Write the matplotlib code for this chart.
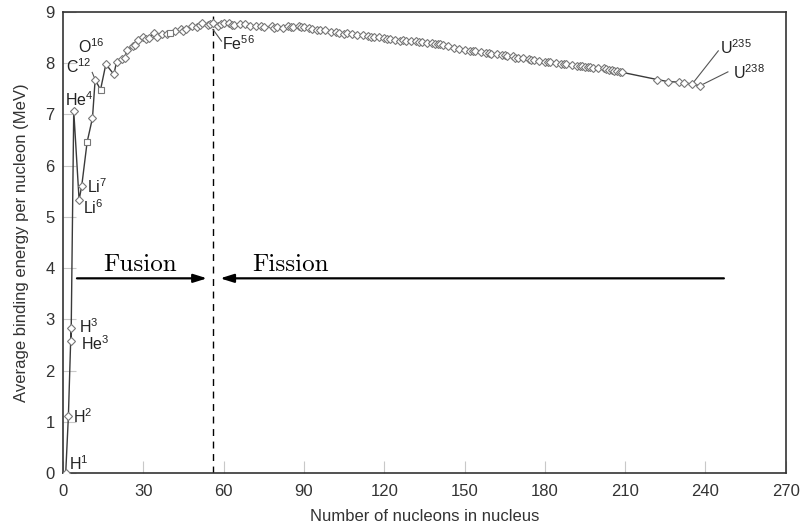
import matplotlib
matplotlib.use("Agg")
import matplotlib.pyplot as plt

# ---- data (mass number A, binding energy per nucleon in MeV) ----
mass_numbers = [1, 2, 3, 3, 4, 6, 7, 9, 11, 12, 14, 16, 19, 20, 22, 23, 24, 26, 27, 28,
                30, 31, 32, 34, 35, 37, 39, 40, 42, 44, 45, 46, 48, 50, 51, 52, 54, 55,
                56, 58, 59, 60, 62, 63, 64, 66, 68, 70, 72, 74, 75, 78, 79, 80, 82, 84,
                85, 86, 88, 89, 90, 92, 93, 95, 96, 98, 100, 102, 103, 105, 106, 108,
                110, 112, 114, 115, 116, 118, 120, 121, 122, 124, 126, 127, 128, 130,
                132, 133, 134, 136, 138, 139, 140, 141, 142, 144, 146, 148, 150, 152,
                153, 154, 156, 158, 159, 160, 162, 164, 165, 166, 168, 169, 170, 172,
                174, 175, 176, 178, 180, 181, 182, 184, 186, 187, 188, 190, 192, 193,
                194, 195, 196, 197, 198, 200, 202, 203, 204, 205, 206, 207, 208, 209,
                222, 226, 230, 232, 235, 238]
binding_energy = [0.00, 1.11, 2.83, 2.57, 7.07, 5.33, 5.61, 6.46, 6.93, 7.68, 7.48, 7.98,
                  7.78, 8.03, 8.08, 8.11, 8.26, 8.33, 8.35, 8.45, 8.52, 8.48, 8.49, 8.58,
                  8.52, 8.57, 8.56, 8.58, 8.62, 8.66, 8.62, 8.67, 8.72, 8.70, 8.74, 8.78,
                  8.74, 8.77, 8.79, 8.73, 8.77, 8.78, 8.79, 8.75, 8.74, 8.76, 8.76, 8.73,
                  8.73, 8.73, 8.70, 8.72, 8.69, 8.71, 8.69, 8.72, 8.70, 8.71, 8.73, 8.71,
                  8.71, 8.69, 8.66, 8.65, 8.64, 8.64, 8.61, 8.61, 8.58, 8.57, 8.58, 8.56,
                  8.55, 8.54, 8.53, 8.52, 8.52, 8.52, 8.50, 8.48, 8.47, 8.46, 8.44, 8.45,
                  8.44, 8.43, 8.43, 8.41, 8.41, 8.40, 8.39, 8.38, 8.38, 8.37, 8.36, 8.33,
                  8.30, 8.28, 8.26, 8.24, 8.23, 8.23, 8.21, 8.19, 8.19, 8.18, 8.17, 8.16,
                  8.15, 8.14, 8.13, 8.11, 8.11, 8.10, 8.09, 8.07, 8.06, 8.05, 8.03, 8.02,
                  8.02, 8.01, 7.99, 7.99, 7.98, 7.96, 7.95, 7.94, 7.94, 7.93, 7.93, 7.92,
                  7.91, 7.90, 7.90, 7.89, 7.87, 7.86, 7.85, 7.84, 7.83, 7.82, 7.68, 7.64,
                  7.63, 7.62, 7.59, 7.56]
square_markers = [9, 14, 40]

# labelled nuclides: (text, label x, label y)
label_text = [r"H$^{1}$", r"H$^{2}$", r"H$^{3}$", r"He$^{3}$", r"He$^{4}$", r"Li$^{6}$",
              r"Li$^{7}$", r"C$^{12}$", r"O$^{16}$", r"Fe$^{56}$", r"U$^{235}$", r"U$^{238}$"]
label_x = [2.2, 3.9, 6.0, 6.6, 0.75, 7.6, 8.9, 1.1, 5.7, 59.5, 245.6, 250.2]
label_y = [0.19, 1.10, 2.86, 2.52, 7.28, 5.17, 5.59, 7.94, 8.32, 8.38, 8.31, 7.81]
# leader lines: (x0, y0, x1, y1)
leaders = [(12.0, 7.68, 10.9, 7.82), (56.0, 8.66, 59.2, 8.43),
           (235.0, 7.59, 244.8, 8.24), (238.0, 7.56, 248.4, 7.83)]

x_ticks = [0, 30, 60, 90, 120, 150, 180, 210, 240, 270]
y_ticks = [0, 1, 2, 3, 4, 5, 6, 7, 8, 9]
fe_peak = 56
arrow_level = 3.80
fusion_span = (5.2, 53.8)
fission_span = (246.9, 58.7)

plt.rcParams["font.family"] = ["Liberation Sans", "DejaVu Sans"]
plt.rcParams["mathtext.fontset"] = "custom"
plt.rcParams["mathtext.rm"] = "Liberation Sans"
plt.rcParams["mathtext.it"] = "Liberation Sans"

fig = plt.figure(figsize=(8.03, 5.30), dpi=100)
ax = fig.add_axes([0.0785, 0.1075, 0.9000, 0.8700])

line_col = "#3a3a3a"
ax.plot(mass_numbers, binding_energy, color=line_col, lw=1.0, zorder=2)
diam_x = [a for a in mass_numbers if a not in square_markers]
diam_y = [e for a, e in zip(mass_numbers, binding_energy) if a not in square_markers]
sq_x = [a for a in mass_numbers if a in square_markers]
sq_y = [e for a, e in zip(mass_numbers, binding_energy) if a in square_markers]
ax.plot(diam_x, diam_y, ls="none", marker="D", ms=3.8, mfc="white", mec="#777777",
        mew=0.8, zorder=3)
ax.plot(sq_x, sq_y, ls="none", marker="s", ms=4.6, mfc="white", mec="#777777",
        mew=0.8, zorder=3)

for t, lx, ly in zip(label_text, label_x, label_y):
    ax.text(lx, ly, t, fontsize=11.5, color="#222222", ha="left", va="center", zorder=4)
for x0, y0, x1, y1 in leaders:
    ax.plot([x0, x1], [y0, y1], color="#555555", lw=0.8, zorder=2)

ax.axvline(fe_peak, color="black", lw=1.0, ls=(0, (5, 4)), zorder=1)

ax.annotate("", xy=(fusion_span[1], arrow_level), xytext=(fusion_span[0], arrow_level),
            arrowprops=dict(arrowstyle="-|>,head_length=0.8,head_width=0.25",
                            color="black", lw=1.6, shrinkA=0, shrinkB=0))
ax.annotate("", xy=(fission_span[1], arrow_level), xytext=(fission_span[0], arrow_level),
            arrowprops=dict(arrowstyle="-|>,head_length=0.8,head_width=0.25",
                            color="black", lw=1.6, shrinkA=0, shrinkB=0))
ax.text(28.8, 4.06, "Fusion", fontsize=18, family="cmr10", ha="center", va="center")
ax.text(84.9, 4.06, "Fission", fontsize=18, family="cmr10", ha="center", va="center")

ax.set_xlim(0, 270)
ax.set_ylim(0, 9)
ax.set_xticks(x_ticks)
ax.set_yticks(y_ticks)
ax.tick_params(direction="in", length=9, width=0.8, color="#c8c8c8",
               labelsize=12, labelcolor="#333333")
ax.tick_params(axis="x", pad=8)
ax.tick_params(axis="y", pad=6)
for s in ax.spines.values():
    s.set_color("#333333")
    s.set_linewidth(1.2)
ax.set_xlabel("Number of nucleons in nucleus", fontsize=12, color="#333333", labelpad=7)
ax.set_ylabel("Average binding energy per nucleon (MeV)", fontsize=12, color="#333333",
              labelpad=12)

fig.savefig("out.png", dpi=100)
